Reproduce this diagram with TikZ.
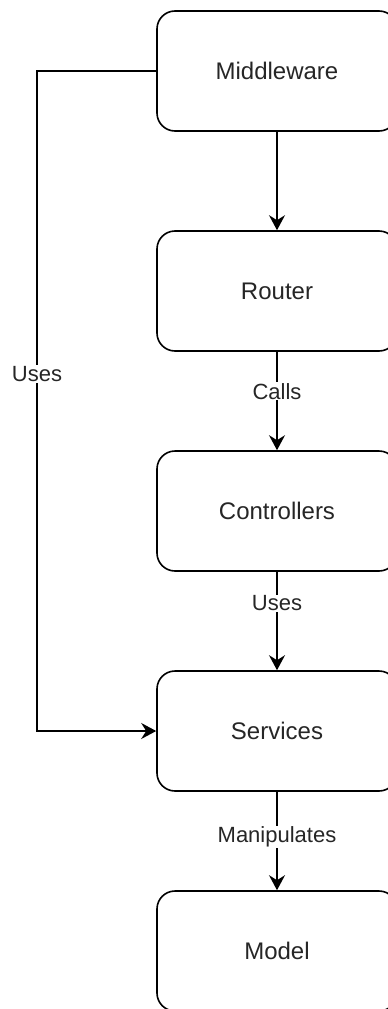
\documentclass[tikz,border=0pt]{standalone}
\usepackage{fontspec}
\setmainfont{Liberation Sans}
\usetikzlibrary{arrows.meta}
\begin{document}
\begin{tikzpicture}[x=1pt,y=-1pt,
  layer/.style={draw=black, line width=1.6pt, fill=white, rounded corners=18pt,
    minimum width=240pt, minimum height=120pt, inner sep=0pt,
    font=\fontsize{24}{28}\selectfont, text=black!85},
  flow/.style={draw=black, line width=1.6pt,
    -{Stealth[length=15pt,width=16pt,inset=5pt]}},
  lbl/.style={fill=white, inner sep=1pt, font=\fontsize{22}{26}\selectfont, text=black!85}]
  \useasboundingbox (0,0) rectangle (388,1009);
  \clip (0,0) rectangle (388,1009);

  % stack of layers
  \node[layer] (mw) at (277,71)  {Middleware};
  \node[layer] (rt) at (277,291) {Router};
  \node[layer] (ct) at (277,511) {Controllers};
  \node[layer] (sv) at (277,731) {Services};
  \node[layer] (md) at (277,951) {Model};

  % direct calls down the stack
  \draw[flow] (mw.south) -- (rt.north);
  \draw[flow] (rt.south) -- node[lbl, pos=0.4] {Calls} (ct.north);
  \draw[flow] (ct.south) -- node[lbl, pos=0.32] {Uses} (sv.north);
  \draw[flow] (sv.south) -- node[lbl, pos=0.46] {Manipulates} (md.north);

  % middleware bypass to services
  \coordinate (bt) at (37,71);
  \coordinate (bb) at (37,731);
  \draw[flow] (mw.west) -- (bt) -- node[lbl, pos=0.459] {Uses} (bb) -- (sv.west);
\end{tikzpicture}
\end{document}
